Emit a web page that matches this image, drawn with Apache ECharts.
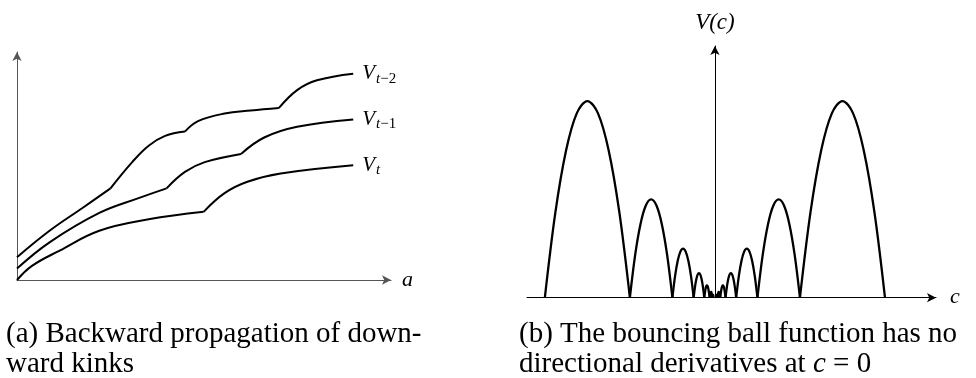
<!DOCTYPE html>
<html>
<head>
<meta charset="utf-8">
<script src="https://cdn.jsdelivr.net/npm/echarts@6/dist/echarts.min.js"></script>
<style>
  html, body { margin: 0; padding: 0; background: #fff; }
  #chart { width: 976px; height: 378px; }
</style>
</head>
<body>
<div id="chart"></div>
<script>
  // panel (a): value functions, points [a, V]
  const vt2 = [[0, 1.0], [0.87, 2.16], [1.75, 3.16], [2.5, 4.02], [3.08, 5.17], [3.52, 5.89], [3.96, 6.32], [4.49, 6.51],
    [4.84, 6.97], [5.55, 7.3], [6.25, 7.43], [7.0, 7.54], [7.49, 8.33], [8.02, 8.76], [8.99, 9.05]]
  const vt2Kinks = [3, 7, 11]
  const vt1 = [[0, 0.5], [0.87, 1.65], [2.2, 2.94], [3.25, 3.59], [4.0, 4.02], [4.49, 4.74], [5.02, 5.17], [5.99, 5.53],
    [6.61, 6.25], [7.49, 6.72], [8.99, 7.04]]
  const vt1Kinks = [4, 7]
  const vt = [[0, 0], [0.4, 0.62], [1.14, 1.29], [2.2, 2.16], [3.52, 2.66], [4.99, 2.99], [5.55, 3.81], [6.16, 4.31],
    [7.05, 4.67], [8.99, 5.03]]
  const vtKinks = [5]
  const curveSubs = [['t', '−2'], ['t', '−1'], ['t', '']]

  // panel (b): bouncing ball arches, edges on c > 0 and peak heights
  const archEdges = [2, 1, 0.5, 0.25, 0.125, 0.0625, 0.031, 0.0156]
  const archPeaks = [1, 0.5, 0.25, 0.125, 0.0625, 0.031, 0.016]
  const archSteps = [0, 0.125, 0.25, 0.375, 0.5, 0.625, 0.75, 0.875, 1]
  const archProfile = [0, 0.4375, 0.75, 0.9375, 1, 0.9375, 0.75, 0.4375, 0]

  const chart = echarts.init(document.getElementById('chart'))

  const serif = 'Liberation Serif'

  const splitAt = (pts, kinks) => {
    const segs = []
    let start = 0
    kinks.concat([pts.length - 1]).forEach(k => {
      segs.push(pts.slice(start, k + 1))
      start = k
    })
    return segs
  }

  const series = []
  ;[vt2, vt1, vt].forEach((pts, ci) => {
    const kinks = [vt2Kinks, vt1Kinks, vtKinks][ci]
    const segs = splitAt(pts, kinks)
    const [sub, rest] = curveSubs[ci]
    segs.forEach((seg, si) => {
      const last = si === segs.length - 1
      series.push({
        type: 'line',
        xAxisIndex: 0,
        yAxisIndex: 0,
        data: seg,
        smooth: 0.4,
        symbol: 'none',
        lineStyle: { color: '#000', width: 2 },
        endLabel: last ? {
          show: true,
          distance: 9,
          formatter: '{v|V}{s|' + sub + '}' + (rest ? '{r|' + rest + '}' : ''),
          rich: {
            v: { fontFamily: serif, fontStyle: 'italic', fontSize: 21, color: '#000' },
            s: { fontFamily: serif, fontStyle: 'italic', fontSize: 15, color: '#000', padding: [10, 0, 0, 1] },
            r: { fontFamily: serif, fontSize: 15, color: '#000', padding: [10, 0, 0, 0] }
          }
        } : { show: false }
      })
    })
  })

  archPeaks.forEach((h, i) => {
    const lo = archEdges[i + 1]
    const hi = archEdges[i]
    ;[1, -1].forEach(side => {
      series.push({
        type: 'line',
        xAxisIndex: 1,
        yAxisIndex: 1,
        data: archSteps.map((u, k) => [side * (lo + (hi - lo) * u), h * archProfile[k]]),
        smooth: 0.35,
        symbol: 'none',
        lineStyle: { color: '#000', width: 2.3 }
      })
    })
  })

  const axisLabelFont = { fontFamily: serif, fontStyle: 'italic', fontSize: 22, color: '#000' }
  const bare = { axisTick: { show: false }, axisLabel: { show: false }, splitLine: { show: false } }

  const option = {
    animation: false,
    backgroundColor: '#fff',
    grid: [
      { left: 17, top: 52, width: 374, height: 228 },
      { left: 527, top: 46, width: 409, height: 251.7 }
    ],
    xAxis: [
      {
        type: 'value', gridIndex: 0, min: 0, max: 10, ...bare,
        name: 'a', nameLocation: 'end', nameGap: 11, nameTextStyle: axisLabelFont,
        axisLine: { lineStyle: { color: '#555', width: 1 }, symbol: ['none', 'arrow'], symbolSize: [7, 9] }
      },
      {
        type: 'value', gridIndex: 1, min: -2.21, max: 2.6, ...bare,
        name: 'c', nameLocation: 'end', nameGap: 14, nameTextStyle: axisLabelFont,
        axisLine: { lineStyle: { color: '#000', width: 1 }, symbol: ['none', 'arrow'], symbolSize: [7, 9] }
      }
    ],
    yAxis: [
      {
        type: 'value', gridIndex: 0, min: 0, max: 10, ...bare,
        axisLine: { lineStyle: { color: '#555', width: 1 }, symbol: ['none', 'arrow'], symbolSize: [7, 9] }
      },
      {
        type: 'value', gridIndex: 1, min: 0, max: 1.28, ...bare,
        name: '{i|V}{u|(}{i|c}{u|)}', nameLocation: 'end', nameGap: 12,
        nameTextStyle: {
          ...axisLabelFont,
          rich: {
            i: { fontFamily: serif, fontStyle: 'italic', fontSize: 23, color: '#000' },
            u: { fontFamily: serif, fontSize: 23, color: '#000' }
          }
        },
        axisLine: { onZero: true, lineStyle: { color: '#000', width: 1 }, symbol: ['none', 'arrow'], symbolSize: [7, 9] }
      }
    ],
    graphic: [
      {
        type: 'text', left: 6, top: 319,
        style: {
          text: '(a) Backward propagation of down-\nward kinks',
          fontFamily: serif, fontSize: 29, lineHeight: 30, fill: '#000'
        }
      },
      {
        type: 'text', left: 519, top: 319,
        style: {
          text: '(b) The bouncing ball function has no\ndirectional derivatives at {i|c} = 0',
          fontFamily: serif, fontSize: 29, lineHeight: 30, fill: '#000',
          rich: { i: { fontFamily: serif, fontStyle: 'italic', fontSize: 29, lineHeight: 30, fill: '#000' } }
        }
      }
    ],
    series
  }

  chart.setOption(option)
  window.addEventListener('resize', () => {
    chart.resize()
  })
</script>
</body>
</html>
